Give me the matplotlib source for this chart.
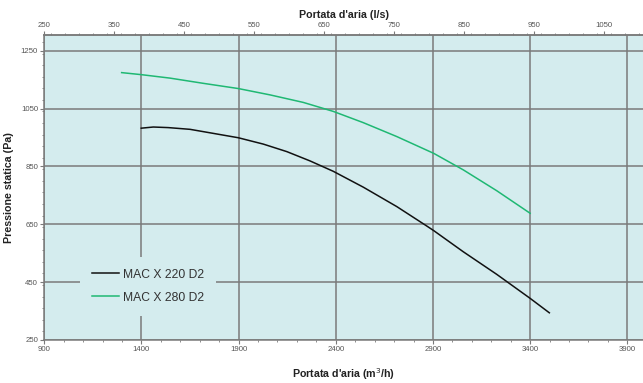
import numpy as np
import matplotlib
matplotlib.use('Agg')
import matplotlib.pyplot as plt
from matplotlib.ticker import MultipleLocator

plt.rcParams['font.family'] = ['Liberation Sans', 'DejaVu Sans']

# curve data (m3/h, Pa)
q_220 = [1399, 1461, 1538, 1650, 1770, 1898, 2027, 2148, 2267, 2387, 2542,
         2714, 2868, 2904, 3056, 3228, 3400, 3499]
p_220 = [982, 986, 984, 978, 964, 949, 927, 901, 869, 833, 778,
         711, 644, 628, 555, 477, 394, 344]

q_280 = [1298, 1399, 1547, 1718, 1898, 2062, 2233, 2387, 2542, 2714,
         2904, 3056, 3228, 3400]
p_280 = [1174, 1167, 1155, 1137, 1119, 1097, 1071, 1040, 1001, 953,
         895, 838, 766, 688]

labels = ['MAC X 220 D2', 'MAC X 280 D2']
colors = ['#111111', '#1fb873']

bg = '#d4ecee'
grid_c = '#7a7a7a'
tick_c = '#555555'

fig = plt.figure(figsize=(6.43, 3.83), dpi=100)
ax = fig.add_axes([44.3 / 643, 1 - 340 / 383, 1 - 44.3 / 643, (340 - 35) / 383])
ax.set_facecolor(bg)

ax.plot(q_220, p_220, color=colors[0], lw=1.1, label=labels[0])
ax.plot(q_280, p_280, color=colors[1], lw=1.1, label=labels[1])

ax.set_xlim(900, 3981)
ax.set_ylim(250, 1304)
ax.set_xticks(np.arange(900, 3901, 500))
ax.set_yticks(np.arange(250, 1251, 200))
ax.xaxis.set_minor_locator(MultipleLocator(100))
ax.yaxis.set_minor_locator(MultipleLocator(40))
ax.grid(True, which='major', color=grid_c, lw=1.1)
ax.set_axisbelow(True)

ax.spines['right'].set_visible(False)
for s in ['left', 'bottom', 'top']:
    ax.spines[s].set_color(grid_c)
    ax.spines[s].set_linewidth(1.1)

ax.tick_params(which='major', length=3, color=grid_c, labelsize=5.6, labelcolor=tick_c, pad=1.5)
ax.tick_params(which='minor', length=1.5, color=grid_c)
ax.tick_params(axis='x', top=False)

ax.set_xlabel("Portata d'aria (m$^3$/h)", fontsize=7.7, fontweight='bold', color='#222222', labelpad=9)
ax.set_ylabel('Pressione statica (Pa)', fontsize=7.7, fontweight='bold', color='#222222', labelpad=5)

# top axis in l/s
ax2 = ax.twiny()
ax2.set_xlim(900 / 3.6, 3981 / 3.6)
ax2.set_xticks(np.arange(250, 1051, 100))
ax2.xaxis.set_minor_locator(MultipleLocator(20))
ax2.tick_params(which='major', length=3, color=grid_c, labelsize=5.6, labelcolor=tick_c, pad=1.5)
ax2.tick_params(which='minor', length=1.5, color=grid_c)
for s in ['left', 'right', 'bottom']:
    ax2.spines[s].set_visible(False)
ax2.spines['top'].set_color(grid_c)
ax2.spines['top'].set_linewidth(1.1)
ax2.set_xlabel("Portata d'aria (l/s)", fontsize=7.7, fontweight='bold', color='#222222', labelpad=3)

leg = ax.legend(loc='lower left', bbox_to_anchor=(0.05, 0.06), frameon=True, fontsize=8.7,
                handlelength=2.2, handletextpad=0.3, labelspacing=0.9, borderpad=1.0)
leg.get_frame().set_facecolor(bg)
leg.get_frame().set_edgecolor('none')
leg.get_frame().set_alpha(1)
for t in leg.get_texts():
    t.set_color('#333333')

fig.savefig('out.png', dpi=100)
